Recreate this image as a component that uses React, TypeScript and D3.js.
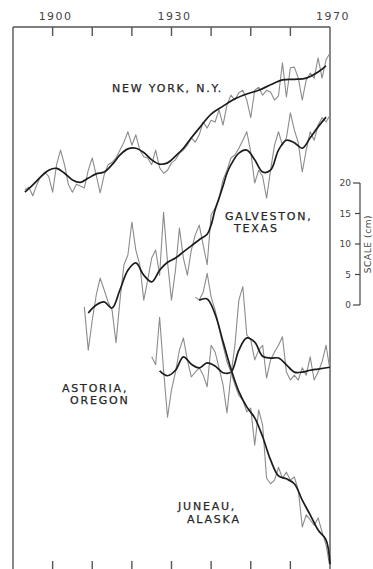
import React from "react";
import { scaleLinear, line, curveCatmullRom, curveLinear, range } from "d3";

// annual mean sea level, cm (series are offset from one another on the sheet)
const nyStart = 1893;
const nyAnnual = [
  18.9, 19.3, 17.9, 19.7, 21.1, 21.8, 21.1, 18.5, 23.0, 25.4,
  23.0, 19.7, 18.5, 19.8, 19.5, 19.2, 22.1, 24.1, 21.3, 18.4,
  21.3, 23.0, 23.4, 24.1, 25.4, 26.7, 28.4, 26.2, 27.9, 25.4,
  24.3, 24.1, 23.0, 25.4, 22.5, 21.6, 22.1, 23.3, 23.8, 24.9,
  25.4, 26.2, 27.4, 26.7, 27.9, 30.0, 29.0, 30.3, 30.0, 32.0,
  29.5, 32.8, 34.4, 33.6, 34.8, 35.2, 33.6, 30.7, 35.2, 35.7,
  34.4, 35.2, 34.9, 33.6, 34.3, 39.7, 34.1, 38.9, 39.0, 37.2,
  33.6, 36.9, 38.0, 37.2, 40.5, 37.2, 40.2, 41.3,
];
const nySmoothYears = [1893, 1895, 1897, 1899, 1901, 1903, 1905, 1907, 1909, 1911, 1913, 1915, 1917, 1919, 1921, 1923, 1925, 1927, 1929, 1931, 1933, 1935, 1937, 1940, 1943, 1946, 1949, 1952, 1955, 1958, 1961, 1964, 1967, 1969];
const nySmooth = [18.5, 19.7, 21.0, 22.1, 22.4, 21.6, 20.5, 20.1, 20.8, 21.5, 21.8, 23.0, 24.6, 25.6, 25.7, 25.0, 23.8, 23.1, 23.3, 24.4, 25.7, 27.4, 29.0, 31.3, 32.6, 33.8, 34.6, 35.2, 36.1, 36.9, 37.0, 37.2, 38.2, 39.2];

const galStart = 1908;
const galAnnual = [
  -0.3, -7.4, -2.5, 1.6, 4.4, 2.5, 0.5, -0.8, -6.2, 0.8,
  6.6, 8.2, 13.6, 9.0, 6.6, 0.8, 4.1, 7.7, 9.0, 4.9,
  15.2, 7.0, 0.8, 5.7, 12.6, 7.7, 4.9, 9.0, 11.5, 13.1,
  9.8, 6.6, 14.8, 15.9, 17.5, 20.5, 22.1, 24.1, 24.6, 25.7,
  27.0, 28.4, 25.1, 20.0, 22.1, 21.1, 17.5, 22.1, 26.2, 28.4,
  26.2, 27.4, 31.5, 28.7, 26.6, 21.8, 25.4, 28.4, 27.0, 29.5,
  30.7, 30.0, 31.1,
];
const galSmoothYears = [1909, 1911, 1913, 1915, 1917, 1919, 1921, 1923, 1925, 1927, 1929, 1931, 1933, 1935, 1937, 1939, 1940, 1941, 1942, 1943, 1944, 1945, 1947, 1949, 1951, 1953, 1955, 1957, 1959, 1961, 1963, 1965, 1967, 1969];
const galSmooth = [-1.3, 0.0, 0.5, -0.5, 2.5, 5.7, 6.9, 4.9, 3.8, 5.7, 7.0, 7.7, 8.7, 9.7, 10.7, 11.6, 13.1, 15.6, 17.5, 19.5, 21.6, 23.0, 24.9, 25.4, 23.8, 21.8, 22.1, 25.4, 27.0, 26.6, 25.7, 27.4, 29.2, 30.8];

const astStart = 1925;
const astAnnual = [
  -8.5, -9.8, -2.0, -10.7, -18.4, -13.9, -11.0, -7.4, -5.4, -9.0,
  -11.8, -11.0, -10.3, -11.5, -13.4, -6.6, -7.7, -10.3, -13.1, -17.7,
  -11.5, -6.6, 0.8, 3.0, -4.9, -5.7, -9.0, -7.4, -6.6, -12.0,
  -9.0, -7.7, -6.6, -5.2, -11.0, -12.3, -11.5, -12.3, -10.3, -11.5,
  -8.5, -12.3, -11.0, -9.3, -6.6, -10.7,
];
const astSmoothYears = [1927, 1929, 1931, 1933, 1935, 1937, 1939, 1941, 1943, 1945, 1947, 1949, 1951, 1953, 1955, 1957, 1959, 1961, 1963, 1965, 1967, 1970];
const astSmooth = [-10.8, -11.6, -10.7, -8.5, -9.7, -10.3, -9.5, -10.0, -11.1, -11.0, -7.4, -5.4, -6.1, -8.4, -8.7, -8.7, -9.8, -11.0, -11.0, -10.7, -10.5, -10.2];

const junStart = 1936;
const junAnnual = [
  1.3, 0.8, 2.1, 5.2, 1.3, -0.8, -3.8, -6.6, -9.3, -11.0,
  -13.1, -14.8, -15.6, -17.5, -16.9, -23.0, -17.2, -19.7, -28.4, -29.3,
  -28.7, -26.6, -28.4, -27.4, -28.7, -28.2, -30.3, -36.4, -34.4, -35.2,
  -36.1, -34.9, -37.2, -39.3, -43.0,
];
const junSmoothYears = [1937, 1939, 1941, 1943, 1945, 1947, 1949, 1951, 1953, 1955, 1957, 1959, 1961, 1963, 1965, 1967, 1969, 1970];
const junSmooth = [0.8, 1.0, -1.5, -6.0, -10.5, -14.2, -16.7, -18.5, -21.6, -25.4, -28.0, -28.5, -29.3, -32.0, -34.4, -36.9, -38.5, -42.5];

const tickYears = [1900, 1910, 1920, 1930, 1940, 1950, 1960];
const yearLabels = [1900, 1930, 1970];
const scaleTicks = [0, 5, 10, 15, 20];

const W = 373;
const H = 569;
const font = "'DejaVu Sans', sans-serif";
const ink = "#262626";

const App = () => {
  const x = scaleLinear().domain([1890, 1970]).range([13, 330]);
  const y = scaleLinear().domain([0, 20]).range([305, 183]);

  const annualLine = line<[number, number]>()
    .x((d) => x(d[0]))
    .y((d) => y(d[1]))
    .curve(curveLinear);
  const smoothLine = line<[number, number]>()
    .x((d) => x(d[0]))
    .y((d) => y(d[1]))
    .curve(curveCatmullRom.alpha(0.5));

  const annual = (start: number, vals: number[]) =>
    annualLine(range(vals.length).map((i) => [start + i, vals[i]] as [number, number])) || "";
  const smooth = (yrs: number[], vals: number[]) =>
    smoothLine(yrs.map((yr, i) => [yr, vals[i]] as [number, number])) || "";

  const series = [
    { a: annual(nyStart, nyAnnual), s: smooth(nySmoothYears, nySmooth) },
    { a: annual(galStart, galAnnual), s: smooth(galSmoothYears, galSmooth) },
    { a: annual(astStart, astAnnual), s: smooth(astSmoothYears, astSmooth) },
    { a: annual(junStart, junAnnual), s: smooth(junSmoothYears, junSmooth) },
  ];

  const top = 27;
  const left = x(1890);
  const right = x(1970);
  const barX = 360;

  return (
    <svg
      width={W}
      height={H}
      style={{ position: "absolute", left: 0, top: 0, background: "#fff" }}
      fontFamily={font}
    >
      {/* frame */}
      <g stroke="#555" strokeWidth={1.4} fill="none">
        <line x1={left} x2={left} y1={top} y2={H} />
        <line x1={left} x2={right} y1={top} y2={top} />
        <line x1={right} x2={right} y1={top} y2={H} />
        {tickYears.map((t) => (
          <g key={t}>
            <line x1={x(t)} x2={x(t)} y1={top} y2={top + 9} />
            <line x1={x(t)} x2={x(t)} y1={H - 8} y2={H} />
          </g>
        ))}
      </g>
      {yearLabels.map((t) => (
        <text key={t} x={x(t) + 3} y={20} textAnchor="middle" fontSize={11} fill="#444" letterSpacing={1.5}>
          {t}
        </text>
      ))}

      {/* series */}
      {series.map((d, i) => (
        <g key={i} fill="none">
          <path d={d.a} stroke="#8c8c8c" strokeWidth={1.1} strokeLinejoin="round" />
          <path d={d.s} stroke="#1c1c1c" strokeWidth={1.7} strokeLinejoin="round" />
        </g>
      ))}

      {/* station names */}
      <g fontSize={11} fill={ink} stroke={ink} strokeWidth={0.25} letterSpacing={1.8}>
        <text x={112} y={92}>NEW YORK, N.Y.</text>
        <text x={225} y={220}>GALVESTON,</text>
        <text x={234} y={232}>TEXAS</text>
        <text x={62} y={392}>ASTORIA,</text>
        <text x={70} y={404}>OREGON</text>
        <text x={178} y={510}>JUNEAU,</text>
        <text x={187} y={523}>ALASKA</text>
      </g>

      {/* vertical scale */}
      <g stroke="#444" strokeWidth={1.2} fill="none">
        <line x1={barX} x2={barX} y1={y(20)} y2={y(0)} />
        {scaleTicks.map((t) => (
          <line key={t} x1={t === 0 || t === 20 ? barX - 7 : barX - 5} x2={barX} y1={y(t)} y2={y(t)} />
        ))}
      </g>
      <g fontSize={9} fill="#444">
        {scaleTicks.map((t) => (
          <text key={t} x={barX - 9} y={y(t) + 3} textAnchor="end">
            {t}
          </text>
        ))}
        <text
          transform={`translate(371, ${y(10)}) rotate(-90)`}
          textAnchor="middle"
          letterSpacing={0.6}
        >
          SCALE (cm)
        </text>
      </g>
    </svg>
  );
};

export default App;
